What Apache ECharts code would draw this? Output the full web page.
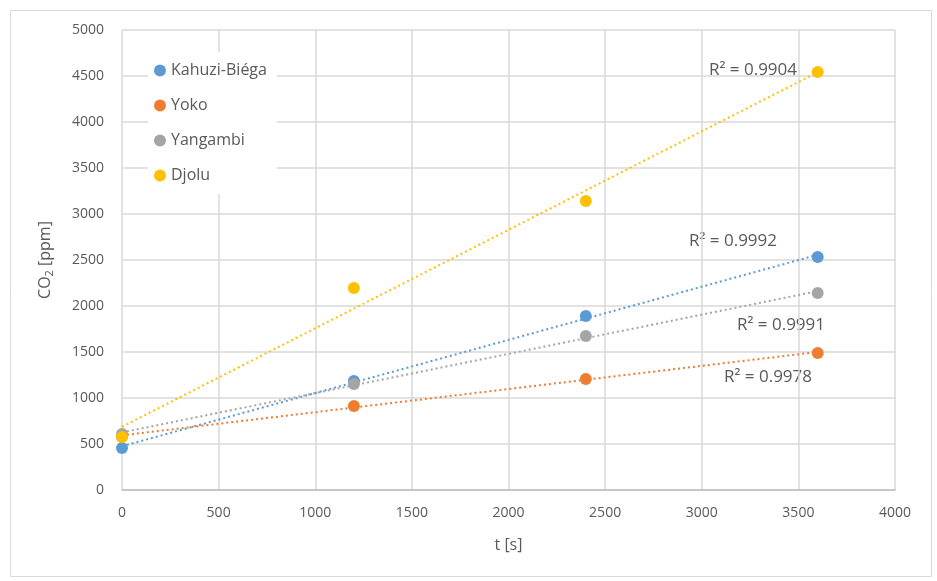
<!DOCTYPE html>
<html><head><meta charset="utf-8">
<script src="https://cdn.jsdelivr.net/npm/echarts@6/dist/echarts.min.js"></script>
<style>html,body{margin:0;padding:0;background:#fff}#c{width:937px;height:581px}</style>
</head><body><div id="c"></div>
<script>
const seriesNames = ['Kahuzi-Biéga', 'Yoko', 'Yangambi', 'Djolu'];
const colors = ['#5b9bd5', '#ed7d31', '#a5a5a5', '#ffc000'];
const tValues = [0, 1200, 2400, 3600];
const kahuziBiega = [456, 1185, 1891, 2533];
const yoko = [580, 913, 1207, 1489];
const yangambi = [609, 1152, 1674, 2141];
const djolu = [576, 2196, 3141, 4543];
const r2Labels = ['R² = 0.9992', 'R² = 0.9978', 'R² = 0.9991', 'R² = 0.9904'];
const xTicks = [0, 500, 1000, 1500, 2000, 2500, 3000, 3500, 4000];
const yTicks = [0, 500, 1000, 1500, 2000, 2500, 3000, 3500, 4000, 4500, 5000];

const allData = [kahuziBiega, yoko, yangambi, djolu];
function fit(xs, ys) {
  const n = xs.length;
  const mx = xs.reduce((a, b) => a + b, 0) / n;
  const my = ys.reduce((a, b) => a + b, 0) / n;
  let sxy = 0, sxx = 0;
  for (let i = 0; i < n; i++) { sxy += (xs[i] - mx) * (ys[i] - my); sxx += (xs[i] - mx) ** 2; }
  const b = sxy / sxx;
  return { a: my - b * mx, b };
}
const font = 'Open Sans';
const series = [];
allData.forEach((d, i) => {
  const f = fit(tValues, d);
  const x0 = tValues[0], x1 = tValues[tValues.length - 1];
  series.push({
    type: 'line', name: seriesNames[i] + ' trend', data: [[x0, f.a + f.b * x0], [x1, f.a + f.b * x1]],
    symbol: 'none', lineStyle: { color: colors[i], width: 2, type: [2, 3] }, silent: true, z: 2
  });
});
allData.forEach((d, i) => {
  series.push({
    type: 'scatter', name: seriesNames[i], data: tValues.map((t, j) => [t, d[j]]),
    symbolSize: 12, itemStyle: { color: colors[i], opacity: 1 }, z: 3
  });
});

const chart = echarts.init(document.getElementById('c'));
chart.setOption({
  animation: false,
  backgroundColor: '#fff',
  textStyle: { fontFamily: font },
  grid: { left: 122, right: 42, top: 30, bottom: 91, containLabel: false },
  xAxis: {
    type: 'value', min: xTicks[0], max: xTicks[xTicks.length - 1], interval: 500,
    name: 't [s]', nameLocation: 'middle', nameGap: 47,
    nameTextStyle: { color: '#595959', fontSize: 16, fontFamily: font },
    axisLine: { show: true, lineStyle: { color: '#bfbfbf', width: 1.5 } },
    axisTick: { show: false },
    axisLabel: { color: '#595959', fontSize: 14, margin: 16, fontFamily: font, formatter: v => String(v) },
    splitLine: { show: true, lineStyle: { color: '#d9d9d9', width: 1.5 } }
  },
  yAxis: {
    type: 'value', min: yTicks[0], max: yTicks[yTicks.length - 1], interval: 500,
    name: '{a|CO}{b|2}{a| [ppm]}', nameLocation: 'middle', nameGap: 67,
    nameTextStyle: { color: '#595959', fontFamily: font,
      rich: { a: { fontSize: 16, color: '#595959', fontFamily: font }, b: { fontSize: 11, color: '#595959', fontFamily: font, padding: [8, 0, 0, 0] } } },
    axisLine: { show: false },
    axisTick: { show: false },
    axisLabel: { color: '#595959', fontSize: 14, margin: 18, fontFamily: font, formatter: v => String(v) },
    splitLine: { show: true, lineStyle: { color: '#d9d9d9', width: 1.5 } }
  },
  legend: {
    data: seriesNames, orient: 'vertical', left: 148, top: 52, itemGap: 14,
    icon: 'circle', itemWidth: 12, itemHeight: 12, itemStyle: { opacity: 1 },
    backgroundColor: '#fff', padding: [8, 10, 8, 6],
    textStyle: { color: '#595959', fontSize: 16, fontFamily: font, lineHeight: 21 }
  },
  graphic: [
    { type: 'rect', left: 8, top: 8, shape: { width: 921, height: 566 }, style: { fill: 'none', stroke: '#d9d9d9', lineWidth: 1 }, silent: true },
    { type: 'text', left: 689, top: 233, style: { text: r2Labels[0], fill: '#595959', font: '17px "Open Sans"' } },
    { type: 'text', left: 724, top: 369, style: { text: r2Labels[1], fill: '#595959', font: '17px "Open Sans"' } },
    { type: 'text', left: 737, top: 317, style: { text: r2Labels[2], fill: '#595959', font: '17px "Open Sans"' } },
    { type: 'text', left: 709, top: 62, style: { text: r2Labels[3], fill: '#595959', font: '17px "Open Sans"' } }
  ],
  series
});
</script></body></html>
